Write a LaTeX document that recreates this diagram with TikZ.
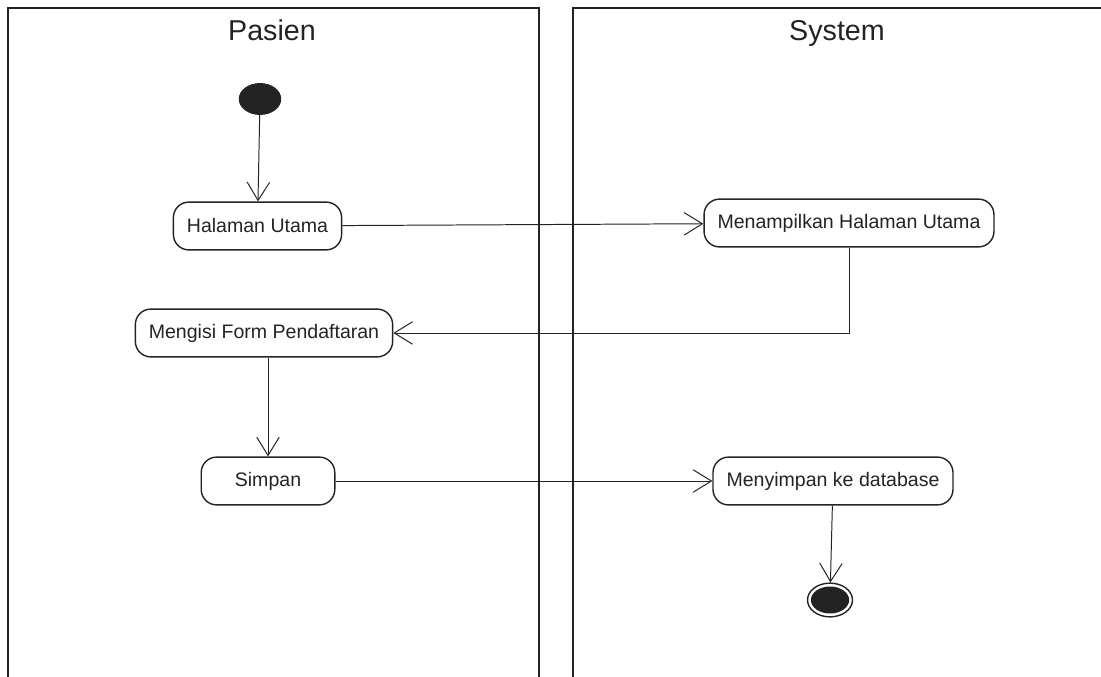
\documentclass[tikz,border=0pt]{standalone}
\usepackage{fontspec}
\setmainfont{Liberation Sans}
\usetikzlibrary{arrows.meta,shapes.geometric}
\definecolor{ink}{HTML}{232323}

\begin{document}
\begin{tikzpicture}[x=0.025cm, y=-0.025cm,
  lane/.style={draw=ink, line width=1.4pt},
  lanetitle/.style={text=ink, anchor=base, font=\fontsize{20.4}{24}\selectfont},
  activity/.style={draw=ink, line width=1pt, rounded corners=11pt,
    minimum height=34pt, inner xsep=9.6pt, text=ink,
    font=\fontsize{13.9}{16}\selectfont},
  initial/.style={ellipse, fill=ink, minimum width=30.2pt, minimum height=22.7pt, inner sep=0pt},
  final/.style={ellipse, draw=ink, line width=1pt, minimum width=32pt, minimum height=24pt, inner sep=0pt,
    path picture={\fill[ink] (path picture bounding box.center) ellipse [x radius=13.6pt, y radius=9.6pt];}},
  flow/.style={draw=ink, line width=0.7pt, -{Straight Barb[length=13pt,width=16pt]}}]

\useasboundingbox (0,0) rectangle (1101,677);

% swimlanes
\draw[lane] (8,690) -- (8,8) -- (539,8) -- (539,690);
\draw[lane] (573,690) -- (573,8) -- (1110,8);
\node[lanetitle] (pasien) at (272,40) {Pasien};
\node[lanetitle] (system) at (837,40) {System};

% Pasien
\node[initial] (start) at (260,99) {};
\node[activity] (home) at (257.5,226) {Halaman Utama};
\node[activity] (form) at (264,333) {Mengisi Form Pendaftaran};
\node[activity, minimum width=95pt] (save) at (268,481) {Simpan};

% System
\node[activity] (showhome) at (849,223) {Menampilkan Halaman Utama};
\node[activity] (savedb) at (833,481) {Menyimpan ke database};
\node[final] (stop) at (830,600) {};

\draw[flow] (start) -- (home);
\draw[flow] (home) -- (showhome);
\draw[flow] (showhome.south) |- (form.east);
\draw[flow] (save.north |- form.south) -- (save.north);
\draw[flow] (save) -- (savedb);
\draw[flow] (savedb) -- (stop);
\end{tikzpicture}
\end{document}
